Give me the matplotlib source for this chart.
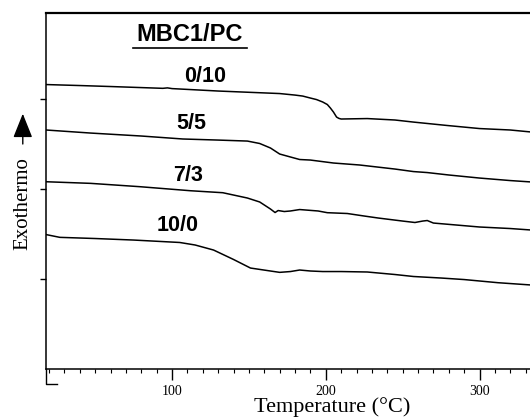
import matplotlib

matplotlib.use('Agg')
import matplotlib.pyplot as plt
from matplotlib.ticker import MultipleLocator

# DSC traces (temperature in C, arbitrary heat-flow units)
t_0_10 = [18, 40, 60, 94, 97, 100, 130, 170, 180, 185, 190, 194, 198, 201, 203,
          205, 207, 208.5, 210, 227, 245, 257, 279, 300, 320, 334]
y_0_10 = [3.161, 3.150, 3.139, 3.119, 3.124, 3.116, 3.089, 3.061, 3.044, 3.033,
          3.011, 2.994, 2.967, 2.939, 2.900, 2.855, 2.800, 2.785, 2.778, 2.783,
          2.767, 2.744, 2.706, 2.672, 2.656, 2.633]

t_5_5 = [18, 47, 80, 107, 130, 149, 157, 164, 170, 177, 183, 190, 205, 222,
         245, 257, 266, 280, 300, 320, 334]
y_5_5 = [2.656, 2.622, 2.589, 2.556, 2.544, 2.533, 2.506, 2.456, 2.389, 2.356,
         2.328, 2.322, 2.289, 2.267, 2.222, 2.194, 2.183, 2.156, 2.122, 2.094, 2.078]

t_7_3 = [18, 47, 79, 112, 133, 149, 157, 164, 167, 169, 173, 177, 183, 195, 201,
         214, 225, 234, 250, 258, 263, 266, 270, 285, 300, 320, 334]
y_7_3 = [2.081, 2.063, 2.026, 1.981, 1.959, 1.900, 1.856, 1.778, 1.739, 1.761,
         1.750, 1.756, 1.772, 1.756, 1.737, 1.728, 1.700, 1.678, 1.644, 1.628,
         1.644, 1.650, 1.622, 1.600, 1.578, 1.561, 1.544]

t_10_0 = [18, 27, 50, 75, 105, 115, 127, 140, 151, 164, 170, 177, 183, 190, 198,
          210, 227, 245, 257, 275, 290, 312, 334]
y_10_0 = [1.494, 1.463, 1.450, 1.433, 1.406, 1.378, 1.322, 1.217, 1.122, 1.089,
          1.074, 1.083, 1.100, 1.089, 1.083, 1.083, 1.078, 1.050, 1.028, 1.011,
          0.994, 0.959, 0.933]

# label text, anchored at its baseline centre
series = [
    ('0/10', t_0_10, y_0_10, (121.5, 3.189)),
    ('5/5', t_5_5, y_5_5, (112.4, 2.667)),
    ('7/3', t_7_3, y_7_3, (110.4, 2.089)),
    ('10/0', t_10_0, y_10_0, (103.3, 1.533)),
]

fig = plt.figure(figsize=(5.3, 4.17), dpi=100)
# the original axes run past the right edge of the scan, so let it overflow
ax = fig.add_axes([0.0868, 0.1151, 1.079, 0.8537])

for name, t, y, pos in series:
    ax.plot(t, y, color='black', lw=1.1)
    ax.text(pos[0], pos[1], name, ha='center', va='baseline', fontsize=15.5,
            fontweight='bold', family='Liberation Sans')

title = ax.text(111.7, 3.644, 'MBC1/PC', ha='center', va='baseline', fontsize=17,
                fontweight='bold', family='Liberation Sans')

ax.set_xlim(18, 390)
ax.set_ylim(0, 3.956)
ax.spines['right'].set_visible(False)
for s in ['left', 'bottom']:
    ax.spines[s].set_linewidth(1.1)
ax.spines['top'].set_linewidth(1.6)

ax.xaxis.set_major_locator(MultipleLocator(100))
ax.xaxis.set_minor_locator(MultipleLocator(10))
ax.tick_params(axis='x', which='major', direction='out', length=8, width=1, pad=3.5,
               labelsize=10, labelfontfamily='Liberation Serif')
ax.tick_params(axis='x', which='minor', direction='out', length=3, width=0.8)
ax.set_yticks([1, 2, 3])
ax.tick_params(axis='y', direction='out', length=4, width=1, labelleft=False)

ax.set_xlabel('Temperature (°C)', fontsize=16, family='Liberation Serif')
ax.xaxis.set_label_coords(0.5, -0.08)

fig.text(0.043, 0.512, 'Exothermo', rotation=90, ha='center', va='center',
         fontsize=15, family='Liberation Serif')
fig.add_artist(matplotlib.patches.FancyArrowPatch(
    (0.043, 0.648), (0.043, 0.734), transform=fig.transFigure,
    arrowstyle='-|>,head_length=0.75,head_width=0.3', mutation_scale=20,
    color='black', lw=1))

# small bracket left of the origin, as in the scan
ax.plot([0, 0, 0.019], [0, -0.042, -0.042], transform=ax.transAxes,
        color='black', lw=1, clip_on=False)

# underline the MBC1/PC heading: a bit wider than the text, 7 px under the baseline
fig.canvas.draw()
bb = title.get_window_extent()
base = ax.transData.transform((111.7, 3.644))[1]
inv = fig.transFigure.inverted()
(x0, uy), (x1, _) = inv.transform([(bb.x0 - 4, base - 7), (bb.x1 + 4, base - 7)])
fig.add_artist(plt.Line2D([x0, x1], [uy, uy], transform=fig.transFigure,
                          color='black', lw=1.2))

fig.savefig('out.png', dpi=100)
